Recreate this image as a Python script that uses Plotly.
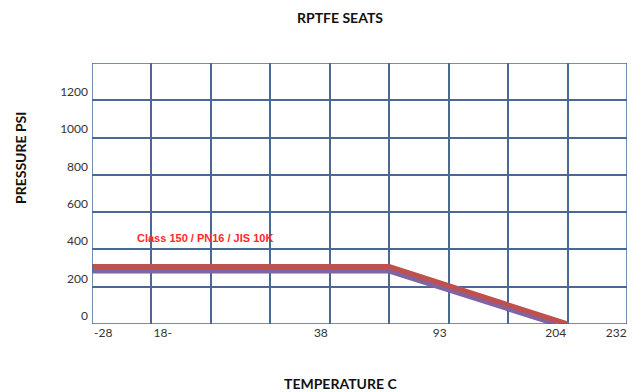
import plotly.graph_objects as go

# posiciones en unidades de la rejilla (0..9 columnas)
x_red = [0, 5, 8]
y_red = [308, 308, 0]
x_purple = [-0.03, 5, 7.8]
y_purple = [284, 284, 0]

tick_pos = [0.19, 1.19, 3.85, 5.85, 7.8, 8.82]
tick_text = ['-28', '18-', '38', '93', '204', '232']

y_ticks = [0, 200, 400, 600, 800, 1000, 1200]

GRID = '#4A6894'
FONT = 'Lato, Carlito, sans-serif'

fig = go.Figure()
fig.add_trace(go.Scatter(x=x_purple, y=y_purple, mode='lines',
                         line=dict(color='#8064A2', width=5), hoverinfo='skip'))
fig.add_trace(go.Scatter(x=x_red, y=y_red, mode='lines',
                         line=dict(color='#C0504D', width=5), hoverinfo='skip'))

# la página tiene 8px de margen en body, por eso 634x384
fig.update_layout(
    width=634, height=384,
    paper_bgcolor='white', plot_bgcolor='white',
    showlegend=False,
    margin=dict(l=84, r=15, t=55, b=68),
    font=dict(family=FONT, size=12, color='#333333'),
    xaxis=dict(range=[0, 9], tickvals=tick_pos, ticktext=tick_text, automargin=False,
               showgrid=False, zeroline=False, ticks='', showline=False,
               minor=dict(dtick=1, tick0=0, showgrid=True, gridcolor=GRID,
                          gridwidth=1.5, ticks=''),
               tickfont=dict(size=12, color='#333333')),
    yaxis=dict(range=[0, 1400], tickvals=y_ticks, showgrid=True, automargin=False,
               gridcolor=GRID, gridwidth=1.5, zeroline=False, ticks='',
               ticklabelposition='outside top', ticklabelstandoff=3,
               tickfont=dict(size=12, color='#333333')),
    shapes=[dict(type='rect', xref='x', yref='y', x0=0, x1=9, y0=0, y1=1400,
                 line=dict(color=GRID, width=1.5))],
    annotations=[
        dict(text='<b>RPTFE SEATS</b>', xref='paper', yref='paper', x=0.464, y=1.0,
             yanchor='middle', yshift=46, showarrow=False,
             font=dict(size=14, color='#111111', family=FONT)),
        dict(text='<b>TEMPERATURE C</b>', xref='paper', yref='paper', x=0.464, y=0,
             yanchor='middle', yshift=-59, showarrow=False,
             font=dict(size=14, color='#111111', family=FONT)),
        dict(text='<b>PRESSURE PSI</b>', xref='paper', yref='paper', x=0, y=0.636,
             xanchor='center', yanchor='middle', xshift=-72, textangle=-90,
             showarrow=False, font=dict(size=14, color='#111111', family=FONT)),
        dict(text='<b>Class 150 / PN16 / JIS 10K</b>', xref='x', yref='y',
             x=0.72, y=460, xanchor='left', showarrow=False,
             font=dict(size=11, color='#FF2A2A', family='Liberation Sans, Arial, sans-serif')),
    ],
)

fig.write_html("out.html")
